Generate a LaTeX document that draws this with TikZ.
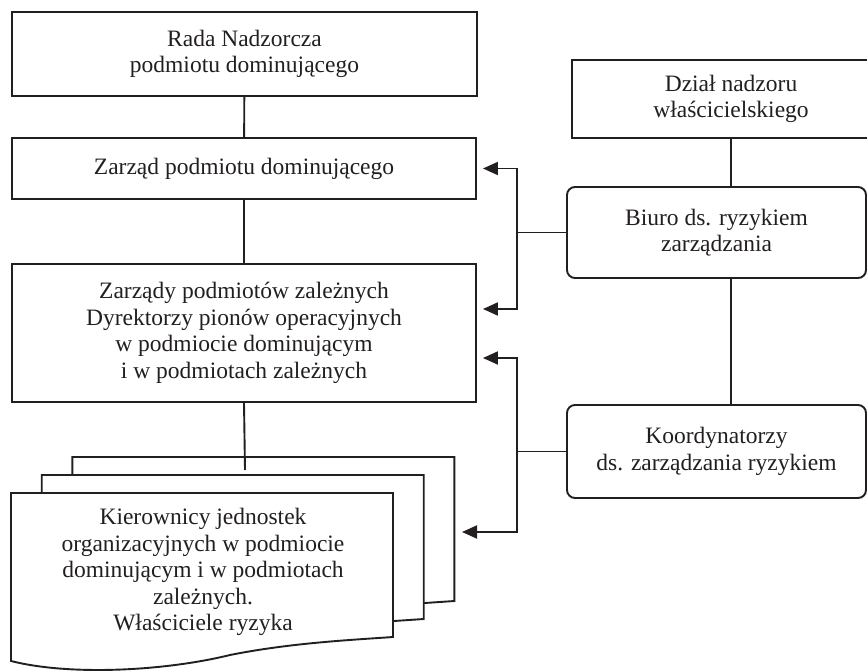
\documentclass[tikz,border=0pt]{standalone}
\usepackage{fontspec}
\setmainfont{Liberation Serif}
\usetikzlibrary{arrows.meta}
\definecolor{ink}{HTML}{231F20}
\begin{document}
\begin{tikzpicture}[x=1pt,y=-1pt,
  every node/.style={font=\fontsize{23.5}{26.5}\selectfont, text=ink, align=center},
  unit/.style={draw=ink, line width=1.9pt, fill=white, inner sep=0pt},
  roundunit/.style={unit, rounded corners=8pt},
  link/.style={draw=ink, line width=1.9pt},
  arr/.style={link, -{Triangle[length=15pt,width=13pt]}},
  sheet/.style={draw=ink, line width=1.9pt, fill=white}]
\useasboundingbox (0,0) rectangle (867,671);
\clip (0,0) rectangle (867,671);

% left column
\node[unit, minimum width=465pt, minimum height=84pt] (rada) at (244.5,54)
  {Rada Nadzorcza\\podmiotu dominującego};
\node[unit, minimum width=464pt, minimum height=61pt] (zp) at (244,168.5)
  {Zarząd podmiotu dominującego};
\node[unit, minimum width=464pt, minimum height=138pt] (zz) at (244,333)
  {Zarządy podmiotów zależnych\\Dyrektorzy pionów operacyjnych\\w podmiocie dominującym\\i w podmiotach zależnych};

% stack of three sheets with a wavy lower edge
\foreach \dx/\dy in {61.4/-36, 30.7/-18, 0/0}{
  \draw[sheet, shift={(\dx,\dy)}] (11,493) -- (393,493) -- (393,637)
    .. controls (350,640) and (290,643) .. (230,655)
    .. controls (165,671) and (70,676) .. (11,661) -- cycle;
}
\node (kj) at (203,572)
  {Kierownicy jednostek\\organizacyjnych w podmiocie\\dominującym i w podmiotach\\zależnych.\\Właściciele ryzyka};
\coordinate (stTop) at (245,470);
\coordinate (stE) at (455,532);

% right column
\node[unit, minimum width=318pt, minimum height=78pt] (dz) at (731,99)
  {Dział nadzoru\\właścicielskiego};
\node[roundunit, minimum width=299pt, minimum height=91pt] (bi) at (716.5,232.5)
  {Biuro ds. ryzykiem\\zarządzania};
\node[roundunit, minimum width=299pt, minimum height=93pt] (ko) at (716.5,451.5)
  {Koordynatorzy\\ds. zarządzania ryzykiem};

% vertical links
\draw[link] (rada) -- (zp);
\draw[link] (zp) -- (zz);
\draw[link] (zz.south) -- (stTop);
\draw[link] (dz.south) -- (dz.south |- bi.north);
\draw[link] (dz.south |- bi.south) -- (dz.south |- ko.north);

% feedback arrows
\coordinate (j1) at (517,232.5);
\coordinate (j2) at (517,451.5);
\draw[link] (bi.west) -- (j1);
\draw[arr, shorten >=6pt] (j1) |- (zp.east);
\draw[arr, shorten >=6pt] (j1) |- (zz.east |- 0,309);
\draw[link] (ko.west) -- (j2);
\draw[arr, shorten >=6pt] (j2) |- (zz.east |- 0,358);
\draw[arr, shorten >=7pt] (j2) |- (stE);
\end{tikzpicture}
\end{document}
